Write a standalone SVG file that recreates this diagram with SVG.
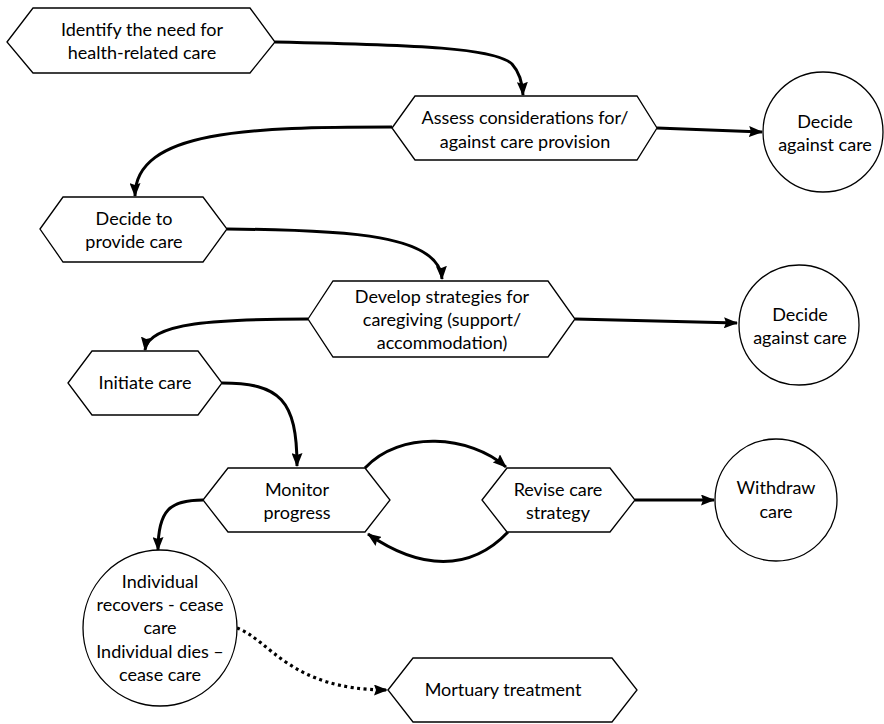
<svg xmlns="http://www.w3.org/2000/svg" width="884" height="724" viewBox="0 0 884 724">
<defs>
<marker id="ah" markerWidth="14" markerHeight="11" refX="13" refY="5.5" orient="auto" markerUnits="userSpaceOnUse">
<path d="M0,0 L14,5.5 L0,11 L2,5.5 Z" fill="#000"/>
</marker>
<style>
.n{fill:#fff;stroke:#000;stroke-width:1.3}
.t{font-family:Lato,"Liberation Sans",sans-serif;font-size:18px;fill:#000;text-anchor:middle}
.c{fill:none;stroke:#000;stroke-width:3;marker-end:url(#ah)}
.d{fill:none;stroke:#000;stroke-width:3.2;stroke-dasharray:3 3.5;marker-end:url(#ah)}
</style>
</defs>
<rect width="884" height="724" fill="#fff"/>
<g id="connectors">
<path class="c" d="M275,42 C420,45 495,48 512,64 Q522,75 523,95"/>
<path class="c" d="M657,128 L762,132"/>
<path class="c" d="M392,127 C250,127 135,130 135,196"/>
<path class="c" d="M227,229 C350,230 440,235 442,279"/>
<path class="c" d="M308,319 C220,319 148,322 145,350"/>
<path class="c" d="M575,319 L737,323"/>
<path class="c" d="M222,383 C280,383 297,400 297,466"/>
<path class="c" d="M365,468 C400,430 470,435 506,467"/>
<path class="c" d="M508,532 C470,572 420,570 368,534"/>
<path class="c" d="M203,500 C170,500 158,510 158,550"/>
<path class="c" d="M635,500 L714,500"/>
<path class="d" d="M237,628 C270,640 290,690 387,690"/>
</g>
<g id="n1"><polygon class="n" points="7,42 33,8 250,8 275,42 250,73 33,73"/>
<text class="t" x="142" y="36">Identify the need for</text><text class="t" x="142" y="59">health-related care</text></g>
<g id="n2"><polygon class="n" points="392,128 415,96 637,96 657,128 637,160 415,160"/>
<text class="t" x="525" y="124">Assess considerations for/</text><text class="t" x="525" y="148">against care provision</text></g>
<g id="c1"><circle class="n" cx="823" cy="132" r="60"/>
<text class="t" x="825" y="128">Decide</text><text class="t" x="825" y="151">against care</text></g>
<g id="n3"><polygon class="n" points="40,229 63,197 203,197 227,229 203,262 63,262"/>
<text class="t" x="134" y="225">Decide to</text><text class="t" x="134" y="248">provide care</text></g>
<g id="n4"><polygon class="n" points="308,319 333,281 548,281 575,319 548,357 333,357"/>
<text class="t" x="442" y="303">Develop strategies for</text><text class="t" x="442" y="326">caregiving (support/</text><text class="t" x="442" y="349">accommodation)</text></g>
<g id="c2"><circle class="n" cx="799" cy="325" r="60"/>
<text class="t" x="800" y="321">Decide</text><text class="t" x="800" y="344">against care</text></g>
<g id="n5"><polygon class="n" points="68,383 92,351 198,351 222,383 198,415 92,415"/>
<text class="t" x="145" y="389">Initiate care</text></g>
<g id="n6"><polygon class="n" points="203,500 228,468 365,468 390,500 365,532 228,532"/>
<text class="t" x="297" y="496">Monitor</text><text class="t" x="297" y="519">progress</text></g>
<g id="n7"><polygon class="n" points="482,500 507,468 610,468 635,500 610,532 507,532"/>
<text class="t" x="558" y="496">Revise care</text><text class="t" x="558" y="519">strategy</text></g>
<g id="c3"><circle class="n" cx="776" cy="500" r="61"/>
<text class="t" x="776" y="494">Withdraw</text><text class="t" x="776" y="518">care</text></g>
<g id="c4"><ellipse class="n" cx="160" cy="628" rx="77" ry="78"/>
<text class="t" x="160" y="588">Individual</text><text class="t" x="160" y="611">recovers - cease</text><text class="t" x="160" y="634">care</text><text class="t" x="160" y="658">Individual dies –</text><text class="t" x="160" y="681">cease care</text></g>
<g id="n8"><polygon class="n" points="388,690 413,658 612,658 637,690 612,722 413,722"/>
<text class="t" x="503" y="696">Mortuary treatment</text></g>
</svg>
